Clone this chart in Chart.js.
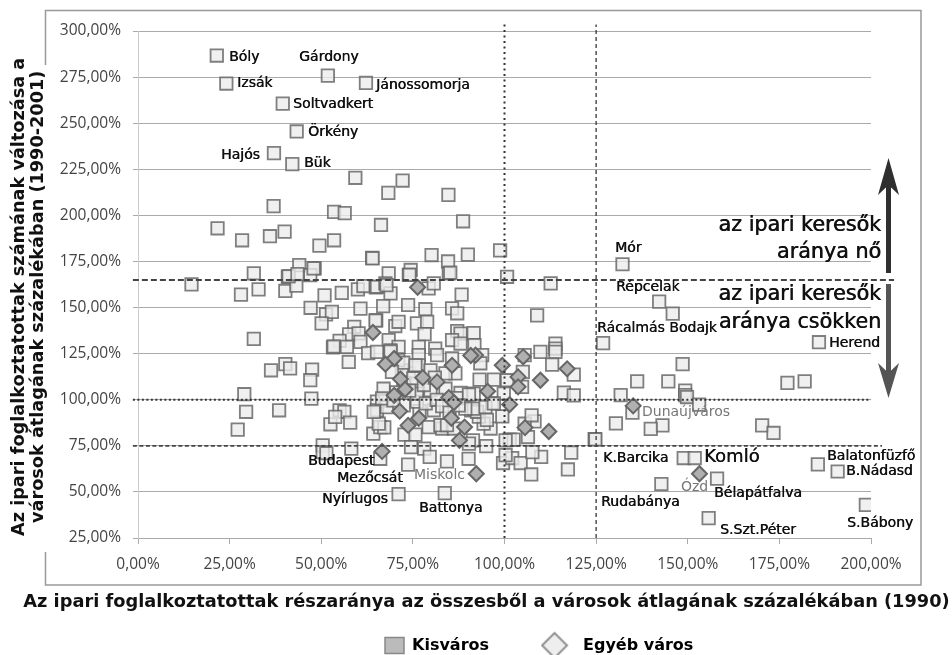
<!DOCTYPE html>
<html>
<head>
<meta charset="utf-8">
<script src="https://cdn.jsdelivr.net/npm/chart.js@4/dist/chart.umd.min.js"></script>
<style>html,body{margin:0;padding:0;background:#fff}canvas{display:block}</style>
</head>
<body>
<canvas id="c" width="952" height="655"></canvas>
<script>
const kisvaros = [
[21.5,286.7],[24.1,271.5],[51.8,275.8],[62.2,271.8],[39.5,260.6],[43.3,245.5],[37.1,233.8],[42.1,227.8],
[59.3,220.4],[72.2,218.9],[68.3,212.2],[84.7,211.1],[37,205],[53.5,201.9],[56.4,201.2],[66.3,194.8],
[88.7,196.8],[21.7,193],[28.4,186.5],[36,188.7],[40,191.2],[49.5,183.6],[53.5,186.5],[63.9,177],
[80.1,178.5],[84.6,175],[90,178.7],[98.8,181],[31.6,168.6],[44,173],[48.2,171.3],[40.9,166.7],
[47,167.6],[68.4,168.6],[74.4,170.4],[73.9,167.7],[84.8,168.6],[100.7,166.7],
[14.6,162.6],[28.1,157],[32.9,159.9],[40.2,159],[43.2,161.9],[41.1,167],[43.5,168.2],[50.9,156.6],
[55.6,158],[60,159.9],[61.5,161.7],[64.9,161],[47.1,149.9],[51.3,146.3],[52.9,147.7],[50.1,141.4],
[60.7,149.4],[31.6,133],[59,139.6],[65,143],[57.6,135.5],[60.2,136],[55,132],[53.2,128.4],[53.4,128.9],
[57,128.7],[60.7,131.4],[62.8,125.3],[57.5,120.5],[40.2,119.3],[36.3,116],[41.5,117],[47.5,116.4],
[47,110.6],[29,103],[47.3,100.6],
[29.5,93.5],[38.5,94.3],[27.2,83.8],[55,94.3],[56.3,93.5],[52.5,86.7],[57.9,87.6],[53.8,90.7],
[50.4,75.3],[50.4,71.6],[51.4,71],[58.2,73.5],[66.1,68],[64.2,81.6],[66.1,85.2],[67.2,85],[65.7,87],
[72.7,81.1],[75.7,81.1],[79.3,85.2],[74.5,74.3],[78.1,73.5],[79.6,69],[73.7,64.8],[84.3,66.6],[90.2,68],
[71.1,48.8],[83.7,49.4],[95,74.9],[91.4,78],[101.4,78.4],[102.5,78.4],[99.6,65.7],[102.1,68.4],[104.4,65.7],
[107.3,59.5],[110,69],[107.6,71.6],[106.4,79.8],[108.2,88.3],[105.5,87],[107.4,91.6],[117.3,62.2],[118.2,71.3],
[124.6,78.6],[96.2,84.4],[94.3,87],[99.4,91],[93,90.8],[83,84.4],[86.2,84.4],[82.5,86.2],[84.3,86.2],
[76.8,93.9],[80.7,94.3],[90.9,94.3],[92.5,93.5],[96.6,98],[65.2,99],[67.5,99.7],[65.2,94.3],[67.9,96],[76.1,99],
[85.2,168.9],[74.1,167.7],[65.2,161.3],[67.5,163.1],[68.9,157.7],[79.3,160.4],[80.7,163.1],[88.3,157],
[112.6,163.1],[66.9,150.8],[73.7,151.4],[78.4,149.1],[85.7,149.6],[87.1,146.9],[108.9,145.8],[64.8,143],
[70.2,140],[71.1,142.3],[76.1,141.4],[78.9,142.3],[78.2,135.6],[87.1,137.2],[88,135.9],[85.7,132.4],
[91.6,136.2],[91.8,129.6],[88,130.5],[68.4,132.4],[71.1,128.7],[76.6,128.7],[81.1,127.8],[81.6,124.2],
[76.6,124.2],[68.9,126.8],[65.2,126],[85.7,122.4],[93.9,124.2],[93.4,119.8],[109.8,126],[113.9,130.5],
[113.9,127.8],[113.9,126],[105.5,124.2],[113,119.1],[118.9,113.6],[105,115.1],[93.2,110.9],[97.1,110.9],
[100.7,110.6],[86.6,114.3],[73.9,114.3],[76.6,118.7],[72,116],[79.8,116],[71,121.5],[83.9,114.3],[116.2,103.9],
[118.9,102.4],[104.8,107],[99.8,103.4],[91.6,103.4],[67,106],[79.8,105.2],[88,103.7],[83.9,106],[76.1,108.8],
[72.4,109],[64,176.7],[47.9,171.3],[67.8,162.2],[68.9,126.1],[72.4,120.1],[75.7,118.7],[69.3,115.1],[75.1,111.6],
[72.5,97],[66.6,100.7],[64.3,93.4],[69.7,99.7],[76.1,103.4],[91.6,95.2],[89.3,95.2],[94.8,96],[97.1,98],[95.2,89.1],
[87,100.9],[90.3,102.8],[100.3,78],[90.3,76.2],[100.3,70],[78.5,98],[81.5,100],[83,96.5],[85,93],[87.5,97],
[74,105],[78,108],[81,112],[70.5,104],
[132.2,173.5],[142.2,153.2],[145.9,146.7],[126.9,130.7],[185.8,131.2],[148.6,119.3],[136.2,110],[144.7,110],
[177.2,109.2],[181.9,110],[131.7,102.5],[149.3,105],[149.3,102.5],[149.8,101.5],[153.1,97.4],[134.9,93],
[130.4,87.2],[143.1,86.1],[139.9,84.2],[124.8,78.5],[170.3,86.1],[173.4,82],[148.9,68.4],[151.9,68.4],
[185.5,65],[190.9,61.1],[158,57.2],[142.8,54.3],[198.6,43],[155.7,35.8]
];
const egyebVaros = [
[76.3,161],[64.1,136.5],[69.9,122.4],[67.5,119.3],[92.1,124.2],[90.8,124],[85.7,118.7],[99.4,118.7],[105.1,123.3],
[117.1,116.8],[103.7,112.4],[103.7,107],[109.8,110.6],[71.6,111.3],[77.7,112],[81.6,109.7],[72.9,105.7],[69.9,102.4],
[95.4,104.6],[84.8,101.2],[66.6,72],[71.4,93.8],[73.7,86.1],[76.6,90],[85.5,90],[89.1,85.2],[87.7,78],[92.3,59.9],
[105.6,84.9],[112.1,82.8],[86.2,98.5],[101.4,97.4],[135.1,96.7],[153.2,59.9]
];
const xTickStep = 25, yTickStep = 25;
const xRange = [0, 200], yRange = [25, 300];
const refUpper = [[-1.4,165],[206.3,165]];
const refMid = [[-1.4,100],[200,100]];
const refLower = [[-1.4,75],[203,75]];
const refV100 = [[100,25],[100,303.5]];
const refV125 = [[125,25],[125,303.5]];
const xAxisTitle = "Az ipari foglalkoztatottak részaránya az összesből a városok átlagának százalékában (1990)";
const yAxisTitle = ["Az ipari foglalkoztatottak számának változása a","városok átlagának százalékában (1990-2001)"];
const seriesNames = ["Kisváros","Egyéb város"];

const notes = [
 ["Bóly",229,57],["Gárdony",299,57],["Izsák",237,83],["Jánossomorja",376,85],["Soltvadkert",293,104],
 ["Örkény",308,132],["Hajós",221,155],["Bük",304,163],["Budapest",308,461],["Mezőcsát",337,478],
 ["Miskolc",414,475,"#777"],["Nyírlugos",322,499],["Battonya",419,508],["Mór",615,248],["Répcelak",616,287],
 ["Rácalmás Bodajk",597,328],["Herend",829,343],["Dunaújváros",642,412,"#777"],["K.Barcika",603,458],
 ["Ózd",681,487,"#777"],["Bélapátfalva",714,493],["Rudabánya",601,502],["S.Szt.Péter",720,530],
 ["S.Bábony",847,523],["Balatonfüzfő",827,456],["B.Nádasd",846,471]
];
const bigNotes = [["az ipari keresők",881,226],["aránya nő",881,253],["az ipari keresők",881,295],["aránya csökken",881,323]];

const pct = v => v.toFixed(2).replace('.',',') + '%';
const pts = a => a.map(p => ({x:p[0], y:p[1]}));
const refLine = (a, dash, w, col) => ({type:'scatter', label:'', data:pts(a), showLine:true, pointRadius:0, borderColor:col, borderWidth:w, borderDash:dash, clip:false, order:0, fill:false});

function legendDiamond(){
  const cv = document.createElement('canvas');
  cv.width = 50; cv.height = 30;
  const g = cv.getContext('2d');
  const cx = 14, cy = 15, r = 12.5;
  g.fillStyle = '#eee'; g.strokeStyle = '#888'; g.lineWidth = 1.8;
  g.beginPath(); g.moveTo(cx-r,cy); g.lineTo(cx,cy-r); g.lineTo(cx+r,cy); g.lineTo(cx,cy+r); g.closePath(); g.fill(); g.stroke();
  return cv;
}
const diamondIcon = legendDiamond();

const decor = {
  id:'decor',
  afterLayout(chart){
    const l = chart.legend;
    l.left = 318; l.right = 952; l.top = 570.4; l.bottom = 655;
    const t = chart.titleBlock;
    t.left = 0; t.right = 973; t.top = 592;
  },
  beforeDraw(chart){
    const c = chart.ctx; c.save();
    c.strokeStyle = '#999'; c.lineWidth = 1.5;
    c.beginPath();
    c.moveTo(45.5,65); c.lineTo(45.5,10.5); c.lineTo(921,10.5); c.lineTo(921,585); c.lineTo(45.5,585); c.lineTo(45.5,552);
    c.stroke(); c.restore();
  },
  afterDraw(chart){
    const c = chart.ctx; c.save();
    c.textBaseline = 'middle'; c.textAlign = 'left';
    c.font = '14px "DejaVu Sans"';
    c.shadowOffsetX = 0.45; c.shadowBlur = 0;
    for (const n of notes){ c.fillStyle = n[3] || '#111'; c.shadowColor = n[3] ? 'rgba(0,0,0,0)' : '#111'; c.fillText(n[0], n[1], n[2]); }
    c.shadowColor = '#111';
    c.font = '18px "DejaVu Sans"'; c.fillStyle = '#111'; c.fillText('Komló', 704, 457);
    c.font = '20.7px "DejaVu Sans"'; c.textAlign = 'right'; c.shadowOffsetX = 0.6;
    for (const n of bigNotes){ c.fillText(n[0], n[1], n[2]); }
    c.shadowColor = 'rgba(0,0,0,0)';
    const arrow = (x, y0, yBase, yTip, yNotch, col) => {
      c.strokeStyle = col; c.fillStyle = col; c.lineWidth = 5;
      c.beginPath(); c.moveTo(x, y0); c.lineTo(x, yNotch); c.stroke();
      c.beginPath(); c.moveTo(x, yTip); c.lineTo(x+10.5, yBase); c.lineTo(x, yNotch); c.lineTo(x-10.5, yBase); c.closePath(); c.fill();
    };
    arrow(888.5, 273, 195, 158, 185, '#2f2f2f');
    arrow(888.5, 284, 363, 398, 373, '#555');
    c.restore();
  }
};

new Chart(document.getElementById('c'), {
  type:'scatter',
  data:{datasets:[
    {label:seriesNames[0], data:pts(kisvaros), pointStyle:'rect', pointRadius:8.8, pointHoverRadius:8.8, pointBackgroundColor:'rgba(236,236,236,0.78)', pointBorderColor:'rgba(100,100,100,0.82)', pointBorderWidth:1.8, order:2},
    {label:seriesNames[1], data:pts(egyebVaros), pointStyle:'rectRot', pointRadius:7.5, pointHoverRadius:7.5, pointBackgroundColor:'#b0b0b0', pointBorderColor:'#666', pointBorderWidth:2, order:1},
    refLine(refUpper,[6,3],2,'#444'),
    refLine(refMid,[2,2.5],2,'#333'),
    refLine(refLower,[4,2.5],1.6,'#444'),
    refLine(refV100,[2,3.5],2,'#333'),
    refLine(refV125,[4,3],1.4,'#444')
  ]},
  plugins:[decor],
  options:{
    responsive:false, animation:false, devicePixelRatio:1,
    layout:{padding:{left:0,right:81,top:31,bottom:0}},
    scales:{
      x:{type:'linear', min:xRange[0], max:xRange[1],
        afterFit(s){ s.height = 67; },
        ticks:{stepSize:xTickStep, callback:pct, color:'#444', font:{family:'"Open Sans"',size:15.5}, padding:11, maxRotation:0, autoSkip:false},
        grid:{drawOnChartArea:false, drawTicks:true, tickLength:6, color:'#aaa'},
        border:{color:'#aaa'}
      },
      y:{type:'linear', min:yRange[0], max:yRange[1],
        afterFit(s){ s.width = 138; },
        ticks:{stepSize:yTickStep, callback:pct, color:'#444', font:{family:'"Open Sans"',size:15.5}, padding:12, autoSkip:false},
        grid:{drawOnChartArea:true, drawTicks:true, tickLength:5, color:'#aaa'},
        border:{color:'#ccc'},
        title:{display:true, text:yAxisTitle.map(t=>t+'    '), color:'#111', font:{family:'"DejaVu Sans"',size:17.7,weight:'bold',lineHeight:1.08}, padding:{top:10,bottom:0}}
      }
    },
    plugins:{
      title:{display:true, position:'bottom', text:xAxisTitle, color:'#111', font:{family:'"DejaVu Sans"',size:17.8,weight:'bold',lineHeight:1.12}, padding:0, align:'center'},
      tooltip:{enabled:false},
      legend:{display:true, position:'bottom', align:'start', maxHeight:30,
        labels:{usePointStyle:true, pointStyleWidth:19, padding:67, color:'#111', font:{family:'"DejaVu Sans"',size:16,weight:'bold'},
          generateLabels(){
            return [
              {text:seriesNames[0], pointStyle:'rect', fillStyle:'#bbb', strokeStyle:'#888', lineWidth:1.5, datasetIndex:0},
              {text:seriesNames[1], pointStyle:diamondIcon, fillStyle:'#eee', strokeStyle:'#888', lineWidth:1.5, datasetIndex:1}
            ];
          }
        }
      }
    }
  }
});
</script>
</body>
</html>
